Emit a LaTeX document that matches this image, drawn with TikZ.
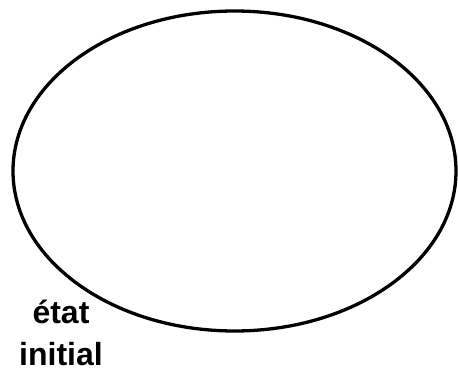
\documentclass[tikz,border=0pt]{standalone}
\usepackage{fontspec}
\setmainfont{Liberation Sans}
\usetikzlibrary{shapes.geometric}
\tikzset{
  etatnode/.style = {ellipse, draw=black, line width=3.3pt,
                     minimum width=443pt, minimum height=320pt, inner sep=0pt},
  legende/.style  = {align=center, inner sep=0pt,
                     font=\bfseries\fontsize{32}{42}\selectfont},
}
\begin{document}
\begin{tikzpicture}[x=1pt, y=-1pt]
  \useasboundingbox (0,0) rectangle (458,372);
  % ---- etat ----
  \node[etatnode] (etat) at (234.5,171) {};
  % ---- legende ----
  \node[legende, anchor=base] (init) at (61,365) {état\\initial};
\end{tikzpicture}
\end{document}
